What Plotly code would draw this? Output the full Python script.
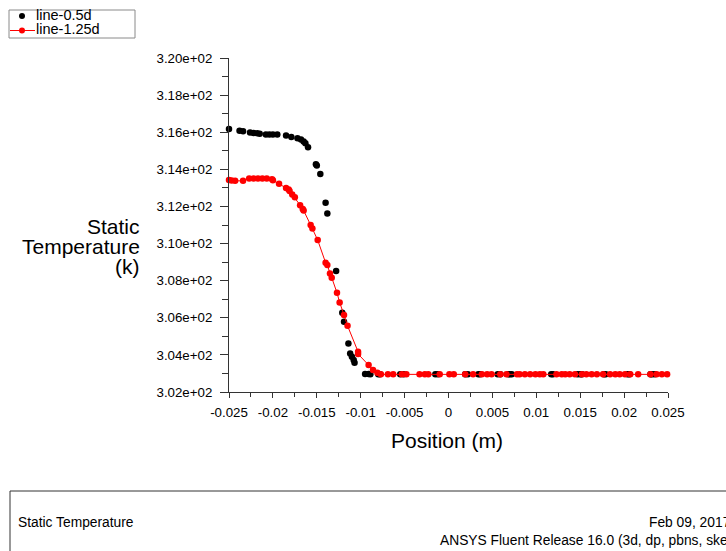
import plotly.graph_objects as go

# Static temperature sampled along the two lines (position in m, temperature in K)
pos_05d = [-0.0250, -0.0238, -0.0234, -0.0226, -0.0222, -0.0218, -0.0215, -0.0208,
           -0.0204, -0.0200, -0.0195, -0.0185, -0.0179, -0.0172, -0.0168, -0.0165,
           -0.0163, -0.0160, -0.0151, -0.0150, -0.0146, -0.0140, -0.0138, -0.0128,
           -0.0121, -0.0119, -0.0114, -0.0112, -0.0110, -0.0108, -0.0107, -0.0095,
           -0.0091, -0.0089, -0.0080, -0.0078, -0.0055, -0.0051, -0.0015, -0.0012,
           0.0019, 0.0022, 0.0034, 0.0036, 0.0056, 0.0059, 0.0068, 0.0070, 0.0072,
           0.0117, 0.0119, 0.0147, 0.0150, 0.0152, 0.0177, 0.0179, 0.0204, 0.0206,
           0.0230, 0.0232, 0.0235]
temp_05d = [316.17, 316.08, 316.05, 315.99, 315.96, 315.94, 315.92, 315.88,
            315.88, 315.88, 315.88, 315.82, 315.74, 315.68, 315.61, 315.50,
            315.40, 315.19, 314.27, 314.20, 313.75, 312.20, 311.62, 308.52,
            306.27, 305.79, 304.62, 304.08, 303.90, 303.72, 303.58, 302.97,
            302.97, 302.96, 302.95, 302.95, 302.95, 302.95, 302.95, 302.95,
            302.95, 302.95, 302.95, 302.95, 302.95, 302.95, 302.95, 302.95, 302.95,
            302.95, 302.95, 302.95, 302.95, 302.95, 302.95, 302.95, 302.95, 302.95,
            302.95, 302.95, 302.95]

pos_125d = [-0.0250, -0.0247, -0.0243, -0.0234, -0.0227, -0.0222, -0.0217, -0.0212,
            -0.0207, -0.0201, -0.0200, -0.0193, -0.0185, -0.0182, -0.0181, -0.0178,
            -0.0175, -0.0169, -0.0166, -0.0165, -0.0157, -0.0155, -0.0149, -0.0140,
            -0.0138, -0.0135, -0.0133, -0.0127, -0.0124, -0.0119, -0.0115, -0.0103,
            -0.0103, -0.0091, -0.0086, -0.0081, -0.0077, -0.0069, -0.0063, -0.0053,
            -0.0048, -0.0033, -0.0027, -0.0023, -0.0010, 0.0001, 0.0006, 0.0019,
            0.0028, 0.0038, 0.0044, 0.0049, 0.0059, 0.0066, 0.0078, 0.0081, 0.0087,
            0.0093, 0.0099, 0.0104, 0.0108, 0.0123, 0.0129, 0.0133, 0.0138, 0.0144,
            0.0152, 0.0157, 0.0163, 0.0169, 0.0176, 0.0184, 0.0190, 0.0195, 0.0201,
            0.0207, 0.0216, 0.0230, 0.0237, 0.0243, 0.0249]
temp_125d = [313.42, 313.40, 313.38, 313.38, 313.50, 313.50, 313.50, 313.50,
             313.50, 313.47, 313.41, 313.22, 313.00, 312.91, 312.83, 312.65,
             312.49, 312.07, 311.86, 311.78, 311.00, 310.81, 310.19, 308.97,
             308.85, 308.39, 308.16, 307.35, 306.83, 306.15, 305.57, 304.17,
             304.05, 303.45, 303.19, 303.04, 302.95, 302.95, 302.95, 302.95,
             302.95, 302.95, 302.95, 302.95, 302.95, 302.95, 302.95, 302.95,
             302.95, 302.95, 302.95, 302.95, 302.95, 302.95, 302.95, 302.95, 302.95,
             302.95, 302.95, 302.95, 302.95, 302.95, 302.95, 302.95, 302.95, 302.95,
             302.95, 302.95, 302.95, 302.95, 302.95, 302.95, 302.95, 302.95, 302.95,
             302.95, 302.95, 302.95, 302.95, 302.95, 302.95]

series_names = ["line-0.5d", "line-1.25d"]
series_colors = ["#000000", "#ff0000"]

x_tickvals = [-0.025, -0.02, -0.015, -0.01, -0.005, 0, 0.005, 0.01, 0.015, 0.02, 0.025]
x_ticktext = ["-0.025", "-0.02", "-0.015", "-0.01", "-0.005", "0",
              "0.005", "0.01", "0.015", "0.02", "0.025"]
y_tickvals = [302, 304, 306, 308, 310, 312, 314, 316, 318, 320]
y_ticktext = ["3.02e+02", "3.04e+02", "3.06e+02", "3.08e+02", "3.10e+02",
              "3.12e+02", "3.14e+02", "3.16e+02", "3.18e+02", "3.20e+02"]

W, H = 726, 551
L, R, T, B = 229, 58, 58, 159
FONT = "Liberation Sans, Arial, sans-serif"
AXIS_COLOR = "#333333"


def xp(px):
    """Horizontal pixel position -> paper coordinate."""
    return (px - L) / (W - L - R)


def yp(py):
    """Vertical pixel position (from top) -> paper coordinate."""
    return (H - B - py) / (H - T - B)


fig = go.Figure()
fig.add_trace(go.Scatter(
    x=pos_05d, y=temp_05d, name=series_names[0], mode="markers",
    marker=dict(color=series_colors[0], size=6.5, line=dict(width=0)),
    cliponaxis=False))
fig.add_trace(go.Scatter(
    x=pos_125d, y=temp_125d, name=series_names[1], mode="lines+markers",
    line=dict(color=series_colors[1], width=1),
    marker=dict(color=series_colors[1], size=6.5, line=dict(width=0)),
    cliponaxis=False))

axis_common = dict(
    showgrid=False, zeroline=False, showline=True, linecolor=AXIS_COLOR,
    linewidth=1, ticks="outside", tickcolor=AXIS_COLOR, tickwidth=1,
    tickfont=dict(family=FONT, size=13.3, color="#000000"), tickmode="array")

fig.update_xaxes(range=[-0.025, 0.025], tickvals=x_tickvals, ticktext=x_ticktext,
                 ticklen=5, ticklabelstandoff=3,
                 minor=dict(dtick=0.0025, ticklen=4, ticks="outside",
                            tickcolor=AXIS_COLOR),
                 **axis_common)
fig.update_yaxes(range=[302, 320], tickvals=y_tickvals, ticktext=y_ticktext,
                 ticklen=8, ticklabelstandoff=5,
                 minor=dict(dtick=1, ticklen=6, ticks="outside",
                            tickcolor=AXIS_COLOR),
                 **axis_common)

annotations = [
    # y-axis title, right aligned on three lines
    dict(text="Static", x=xp(142), y=yp(227), xanchor="right", yanchor="middle",
         font=dict(size=21)),
    dict(text="Temperature", x=xp(142), y=yp(246), xanchor="right", yanchor="middle",
         font=dict(size=21)),
    dict(text="(k)", x=xp(142), y=yp(266), xanchor="right", yanchor="middle",
         font=dict(size=21)),
    # x-axis title
    dict(text="Position (m)", x=xp(447), y=yp(440), xanchor="center", yanchor="middle",
         font=dict(size=21)),
    # footer panel
    dict(text="Static Temperature", x=xp(16), y=yp(522), xanchor="left",
         yanchor="middle", font=dict(size=13.8)),
    dict(text="Feb 09, 2017", x=xp(647), y=yp(522), xanchor="left",
         yanchor="middle", font=dict(size=13.8)),
    dict(text="ANSYS Fluent Release 16.0 (3d, dp, pbns, ske)", x=xp(438), y=yp(540),
         xanchor="left", yanchor="middle", font=dict(size=13.8)),
    # legend labels
    dict(text=series_names[0], x=xp(34), y=yp(15), xanchor="left", yanchor="middle",
         font=dict(size=14.5)),
    dict(text=series_names[1], x=xp(34), y=yp(29), xanchor="left", yanchor="middle",
         font=dict(size=14.5)),
]
for a in annotations:
    a.update(xref="paper", yref="paper", showarrow=False)
    a["font"].update(family=FONT, color="#000000")


def dot(cx, cy, color, r=3):
    return dict(type="circle", xref="paper", yref="paper",
                x0=xp(cx - r), x1=xp(cx + r), y0=yp(cy + r), y1=yp(cy - r),
                fillcolor=color, line=dict(width=0), layer="above")


shapes = [
    # footer panel frame
    dict(type="rect", xref="paper", yref="paper",
         x0=xp(10), x1=xp(760), y0=yp(491), y1=yp(580),
         line=dict(color=AXIS_COLOR, width=1), fillcolor="rgba(0,0,0,0)",
         layer="above"),
    # legend frame and samples
    dict(type="rect", xref="paper", yref="paper",
         x0=xp(9), x1=xp(135), y0=yp(38), y1=yp(10),
         line=dict(color="#8a8a8a", width=1), fillcolor="white", layer="above"),
    dict(type="line", xref="paper", yref="paper",
         x0=xp(10), x1=xp(35), y0=yp(30.5), y1=yp(30.5),
         line=dict(color=series_colors[1], width=1), layer="above"),
    dot(22, 16, series_colors[0]),
    dot(22, 30.5, series_colors[1]),
]

fig.update_layout(
    width=W, height=H, autosize=False,
    margin=dict(l=L, r=R, t=T, b=B, pad=0),
    paper_bgcolor="white", plot_bgcolor="white",
    font=dict(family=FONT, color="#000000"),
    showlegend=False,
    annotations=annotations,
    shapes=shapes,
)

fig.write_html("out.html")
